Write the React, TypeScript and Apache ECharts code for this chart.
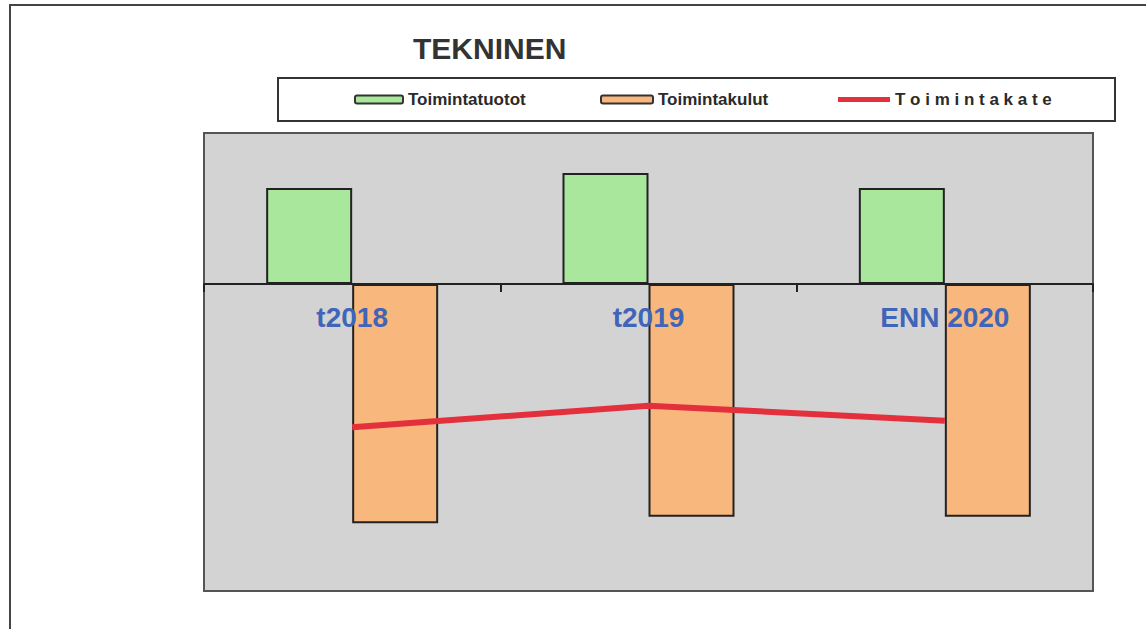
import React, { useEffect, useRef } from "react";
import * as echarts from "echarts";

const categories = ["t2018", "t2019", "ENN 2020"];
const toimintatuotot = [954, 1103, 954];
const toimintakulut = [-2377, -2312, -2312];
const toimintakate = [-1423, -1209, -1358];

const Y_MIN = -3050;
const Y_MAX = 1500;
const GRID_TOP = 133;
const GRID_H = 458;

export default function App() {
  const ref = useRef<HTMLDivElement>(null);
  useEffect(() => {
    document.body.style.margin = "0";
    const chart = echarts.init(ref.current!, null, { renderer: "svg" });
    const legendText = {
      fontFamily: "Arial, 'Liberation Sans', sans-serif",
      fontWeight: "bold" as const,
      fontSize: 17,
      color: "#2a2a2a",
    };
    const zeroFromBottom = (GRID_H * -Y_MIN) / (Y_MAX - Y_MIN);
    chart.setOption({
      animation: false,
      backgroundColor: "#ffffff",
      title: {
        text: "TEKNINEN",
        left: 413,
        top: 33,
        padding: 0,
        textStyle: {
          fontFamily: "Arial, 'Liberation Sans', sans-serif",
          fontWeight: "bold",
          fontSize: 30,
          color: "#333",
        },
      },
      graphic: [
        { type: "line", shape: { x1: 9, y1: 5, x2: 1146, y2: 5 }, style: { stroke: "#444", lineWidth: 2 } },
        { type: "line", shape: { x1: 10, y1: 5, x2: 10, y2: 629 }, style: { stroke: "#444", lineWidth: 2 } },
        {
          type: "rect",
          shape: { x: 278, y: 78, width: 837, height: 43 },
          style: { fill: "none", stroke: "#333", lineWidth: 2 },
          z: -1,
        },
      ],
      legend: [
        {
          data: ["Toimintatuotot"],
          left: 354,
          top: 91,
          padding: 0,
          itemWidth: 48,
          itemHeight: 8,
          itemGap: 3,
          itemStyle: { borderColor: "#333", borderWidth: 2 },
          textStyle: legendText,
        },
        {
          data: ["Toimintakulut"],
          left: 600,
          top: 91,
          padding: 0,
          itemWidth: 52,
          itemHeight: 8,
          itemGap: 3,
          itemStyle: { borderColor: "#333", borderWidth: 2 },
          textStyle: legendText,
        },
        {
          data: ["Toimintakate"],
          left: 838,
          top: 91,
          padding: 0,
          itemWidth: 52,
          itemHeight: 5,
          icon: "rect",
          itemStyle: { borderWidth: 0 },
          formatter: (name: string) => name.split("").join(" "),
          textStyle: legendText,
        },
      ],
      grid: {
        left: 204,
        top: GRID_TOP,
        width: 889,
        height: GRID_H,
        show: true,
        backgroundColor: "#d3d3d3",
        borderColor: "#555",
        borderWidth: 2,
        containLabel: false,
        outerBoundsMode: "none",
      },
      xAxis: {
        type: "category",
        data: categories,
        z: 10,
        position: "bottom",
        offset: -zeroFromBottom,
        axisLine: { onZero: false, lineStyle: { color: "#222", width: 2 } },
        axisTick: { show: true, length: 8, lineStyle: { color: "#222", width: 2 } },
        axisLabel: {
          interval: 0,
          margin: 20,
          color: "#4065b8",
          fontFamily: "Arial, 'Liberation Sans', sans-serif",
          fontWeight: "bold",
          fontSize: 28,
        },
      },
      yAxis: {
        type: "value",
        min: Y_MIN,
        max: Y_MAX,
        show: false,
        splitLine: { show: false },
      },
      series: [
        {
          name: "Toimintatuotot",
          type: "bar",
          data: toimintatuotot,
          barWidth: 86,
          barGap: "0%",
          itemStyle: { color: "#a9e89c", borderColor: "#222", borderWidth: 2 },
        },
        {
          name: "Toimintakulut",
          type: "bar",
          data: toimintakulut,
          barWidth: 86,
          barGap: "0%",
          itemStyle: { color: "#f8b77c", borderColor: "#222", borderWidth: 2 },
        },
        {
          name: "Toimintakate",
          type: "line",
          data: toimintakate,
          symbol: "none",
          z: 5,
          lineStyle: { color: "#e3303c", width: 6 },
          itemStyle: { color: "#e3303c" },
        },
      ],
    });
    return () => chart.dispose();
  }, []);
  return <div ref={ref} style={{ width: 1146, height: 629 }} />;
}
